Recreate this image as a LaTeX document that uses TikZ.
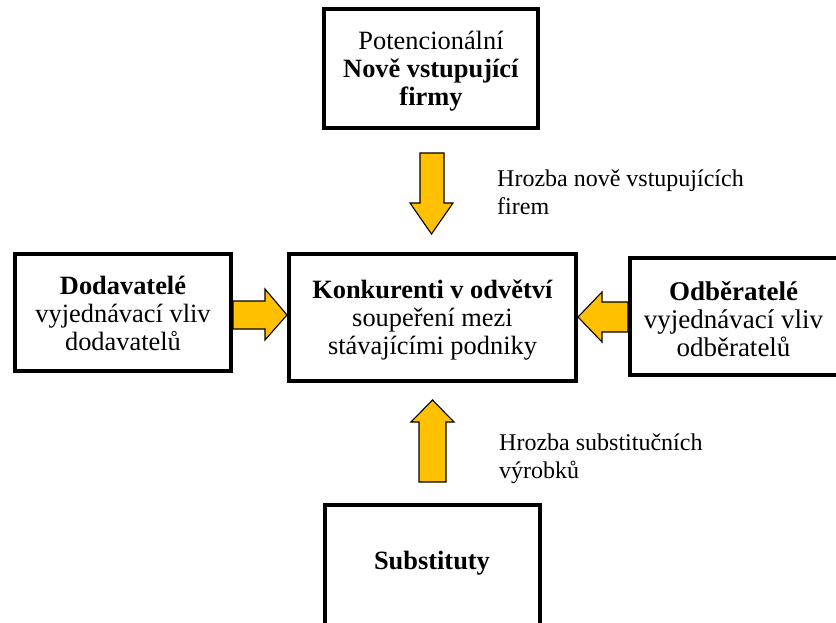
\documentclass[tikz,border=0pt]{standalone}
\usepackage{fontspec}
\setmainfont{Liberation Serif}
\begin{document}
\begin{tikzpicture}[x=1pt,y=-1pt,
  box/.style={draw=black,line width=4pt,fill=white,rectangle,inner sep=0pt},
  boxtext/.style={align=center,font=\fontsize{26.4}{28}\selectfont,inner sep=0pt},
  lbl/.style={align=left,anchor=west,font=\fontsize{24}{28.5}\selectfont,inner sep=0pt},
  blockarrow/.style={draw=black,line width=1.1pt,fill=arrowgold,line join=miter}]
\definecolor{arrowgold}{HTML}{FFC000}
\useasboundingbox (0,0) rectangle (836,623);
\clip (0,0) rectangle (836,623);

% the five forces
\node[box,minimum width=214pt,minimum height=119pt] (entrants) at (431,68.5) {};
\node[boxtext] at ([yshift=-3pt]entrants.center) {Potencionální\\\textbf{Nově vstupující}\\\textbf{firmy}};

\node[box,minimum width=216pt,minimum height=117pt] (suppliers) at (123,312.5) {};
\node[boxtext] at ([yshift=-1pt]suppliers.center) {\textbf{Dodavatelé}\\vyjednávací vliv\\dodavatelů};

\node[box,minimum width=287pt,minimum height=127pt] (rivals) at (432.5,317.5) {};
\node[boxtext] at ([yshift=-3pt]rivals.center) {\textbf{Konkurenti v odvětví}\\soupeření mezi\\stávajícími podniky};

\node[box,minimum width=208pt,minimum height=117pt] (buyers) at (734,316.5) {};
\node[boxtext,font=\fontsize{27}{28}\selectfont] at (733.5,319) {\textbf{Odběratelé}\\vyjednávací vliv\\odběratelů};

\node[box,minimum width=215pt,minimum height=122pt] (substitutes) at (432.5,566) {};
\node[boxtext] at (432,563) {\textbf{Substituty}};

% block arrows towards the rivalry box
\draw[blockarrow] (420,153) -- (444,153) -- (444,203) -- (453,203) -- (431.5,234)
  -- (410,203) -- (420,203) -- cycle;
\draw[blockarrow] (suppliers.east |- 0,301) -- (265,301) -- (265,289) -- (rivals.west |- 0,315)
  -- (265,340) -- (265,329) -- (suppliers.east |- 0,329) -- cycle;
\draw[blockarrow] (buyers.west |- 0,302) -- (602,302) -- (602,292) -- (rivals.east |- 0,317)
  -- (602,342) -- (602,332) -- (buyers.west |- 0,332) -- cycle;
\draw[blockarrow] (419,482) -- (446,482) -- (446,422) -- (454,422) -- (432.5,400)
  -- (411,422) -- (419,422) -- cycle;

% arrow captions
\node[lbl] (newthreat) at (497,192.5) {Hrozba nově vstupujících\\firem};
\node[lbl] (substhreat) at (499,458.5) {Hrozba substitučních\\výrobků};
\end{tikzpicture}
\end{document}
